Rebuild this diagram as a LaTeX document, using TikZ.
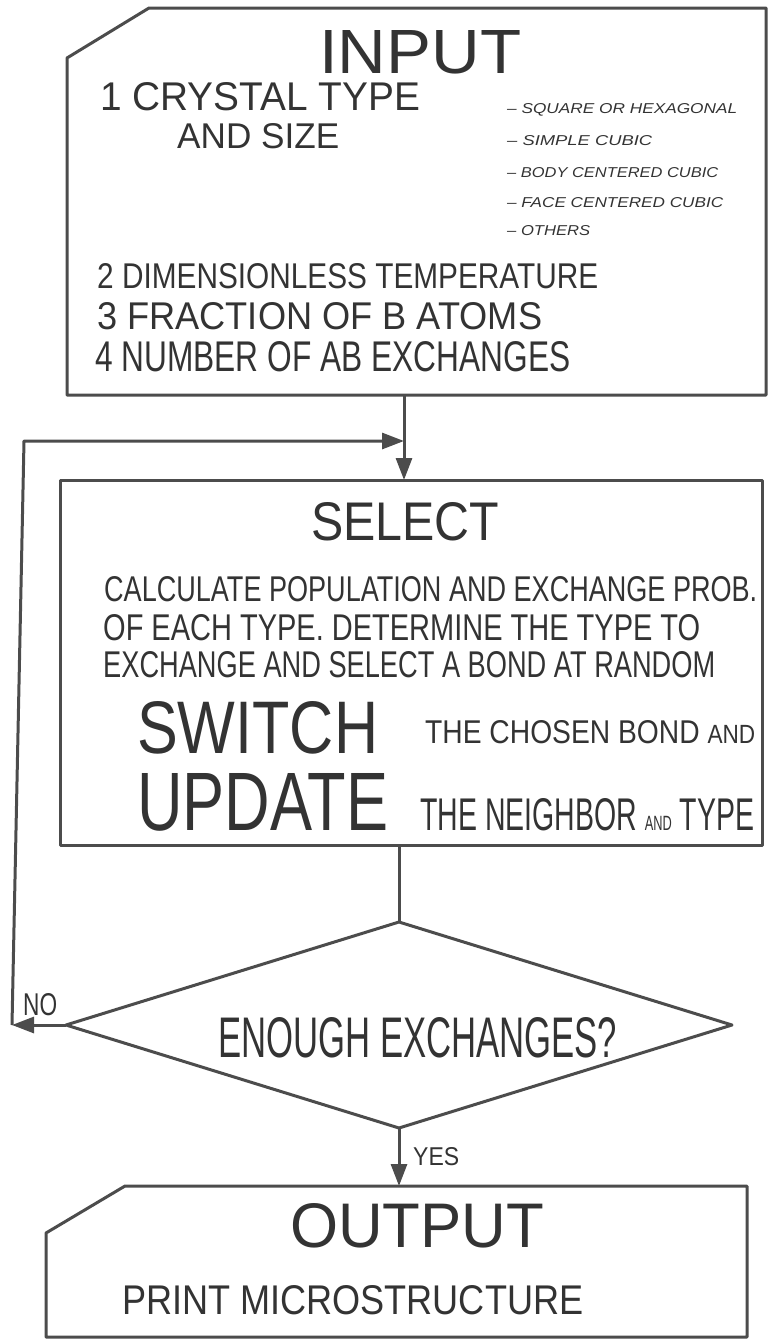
\documentclass[tikz,border=0pt]{standalone}
\usepackage{fontspec}
\setmainfont{Liberation Sans}
\usepackage{graphicx}
\usetikzlibrary{arrows.meta,shapes.geometric}
\tikzset{
  ink/.style={draw=black!70,line width=3pt,line join=round},
  arr/.style={ink,-{Triangle[length=22pt,width=16pt]}},
  box/.style={inner sep=0pt,outer sep=0pt},
  lbl/.style={anchor=base west,inner sep=0pt,text=black!80}}
% lettering fitted to a width and a cap height
\newcommand{\lbl}[6]{\node[lbl] (#1) at (#2,#3) {\resizebox{#4pt}{#5pt}{#6}};}
\newcommand{\sml}[1]{{\itshape\textendash\ #1}}
% box outline with the top left corner cut off
\newcommand{\chamferbox}[3]{%
  \draw[ink] ([xshift=#2pt]#1.north west) -- (#1.north east) -- (#1.south east)
    -- (#1.south west) -- ([yshift=-#3pt]#1.north west) -- cycle;}

\begin{document}
\begin{tikzpicture}[x=1pt,y=-1pt]
    \useasboundingbox (0,0) rectangle (770,1339);
    \node[box,minimum width=699pt,minimum height=387pt] (input) at (416.5,201.5) {};
    \chamferbox{input}{82}{50}
    \node[box,ink,minimum width=702pt,minimum height=365pt] (select) at (411,662.5) {};
    \node[box,ink,diamond,minimum width=666pt,minimum height=206pt] (enough) at (399,1025) {};
    \node[box,minimum width=701pt,minimum height=151pt] (output) at (396.5,1261.5) {};
    \chamferbox{output}{79}{47}
    \coordinate (join) at (404,441);
    \coordinate (noturn) at (12,1025);
    \coordinate (loopturn) at (24,441);
    \draw[arr] (join |- input.south) -- (join |- select.north);
    \draw[ink] (enough.north |- select.south) -- (enough.north);
    \draw[arr] (enough.south) -- (enough.south |- output.north);
    \draw[arr] (enough.west) -- (noturn);
    \draw[arr] (noturn) -- (loopturn) -- (join);
    \lbl{inputhd}{319}{73}{202}{43}{INPUT}
    \lbl{crys}{100}{110}{320}{28}{1 CRYSTAL TYPE}
    \lbl{crysb}{177}{148}{162}{25}{AND SIZE}
    \lbl{lsq}{507}{113}{230}{10}{\sml{SQUARE OR HEXAGONAL}}
    \lbl{lsc}{507}{145}{145}{10}{\sml{SIMPLE CUBIC}}
    \lbl{lbcc}{507}{177}{211}{10}{\sml{BODY CENTERED CUBIC}}
    \lbl{lfcc}{507}{207}{216}{10}{\sml{FACE CENTERED CUBIC}}
    \lbl{loth}{507}{235}{83}{10}{\sml{OTHERS}}
    \lbl{temp}{97}{288}{501}{25}{2 DIMENSIONLESS TEMPERATURE}
    \lbl{frac}{97}{329}{445}{27}{3 FRACTION OF B ATOMS}
    \lbl{nabx}{95}{371}{475}{30}{4 NUMBER OF AB EXCHANGES}
    \lbl{selhd}{311}{540}{188}{38}{SELECT}
    \lbl{calca}{104}{601}{653}{25}{CALCULATE POPULATION AND EXCHANGE PROB.}
    \lbl{calcb}{103}{640}{597}{26}{OF EACH TYPE. DETERMINE THE TYPE TO}
    \lbl{calcc}{103}{677}{612}{26}{EXCHANGE AND SELECT A BOND AT RANDOM}
    \lbl{swhd}{137}{753}{241}{52}{SWITCH}
    \lbl{swtx}{425}{743}{330}{23}{THE CHOSEN BOND {\fontsize{8}{8}\selectfont AND}}
    \lbl{uphd}{137}{830}{251}{57}{UPDATE}
    \lbl{uptx}{420}{830}{334}{32}{THE NEIGHBOR {\fontsize{4.5}{4.5}\selectfont AND} TYPE}
    \lbl{enoughtx}{218}{1057}{399}{40}{ENOUGH EXCHANGES?}
    \lbl{no}{23}{1015}{34}{22}{NO}
    \lbl{yes}{413}{1165}{46}{18}{YES}
    \lbl{outhd}{290}{1247}{254}{44}{OUTPUT}
    \lbl{prt}{122}{1314}{461}{29}{PRINT MICROSTRUCTURE}
\end{tikzpicture}
\end{document}
